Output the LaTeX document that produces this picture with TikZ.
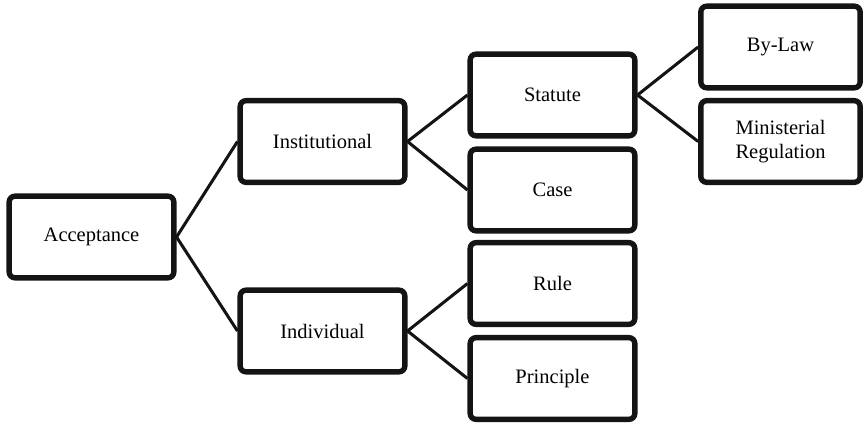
\documentclass[tikz,border=0pt]{standalone}
\usepackage{fontspec}
\setmainfont{Liberation Serif}
\usetikzlibrary{shadows}
\definecolor{boxline}{RGB}{20,20,20}
\tikzset{
  tbox/.style={draw=boxline, line width=4.6pt, fill=white, rounded corners=5pt,
               minimum width=4.94cm, minimum height=2.45cm, align=center,
               font=\fontsize{17.5}{20}\selectfont,
               drop shadow={shadow xshift=1pt, shadow yshift=-1.5pt, opacity=0.25}},
  link/.style={boxline, line width=2.6pt},
}

\begin{document}
\begin{tikzpicture}[x=0.03cm,y=-0.03cm]
  \useasboundingbox (0,0) rectangle (863,423);
  \node[tbox] (accept)  at (91.5,237)  {Acceptance};
  \node[tbox] (inst)    at (322.5,141.5) {Institutional};
  \node[tbox] (indiv)   at (322.5,331) {Individual};
  \node[tbox] (statute) at (552.5,95)  {Statute};
  \node[tbox] (case)    at (552.5,190) {Case};
  \node[tbox] (rule)    at (552.5,283.5) {Rule};
  \node[tbox] (princ)   at (552.5,378.5) {Principle};
  \node[tbox, minimum width=4.78cm] (bylaw)  at (780.5,47)  {By-Law};
  \node[tbox, minimum width=4.78cm] (minreg) at (780.5,141.5) {Ministerial\\Regulation};
  % connectors
  \draw[link] (accept.east) -- (inst.west);
  \draw[link] (accept.east) -- (indiv.west);
  \draw[link] (inst.east) -- (statute.west);
  \draw[link] (inst.east) -- (case.west);
  \draw[link] (indiv.east) -- (rule.west);
  \draw[link] (indiv.east) -- (princ.west);
  \draw[link] (statute.east) -- (bylaw.west);
  \draw[link] (statute.east) -- (minreg.west);
\end{tikzpicture}
\end{document}
